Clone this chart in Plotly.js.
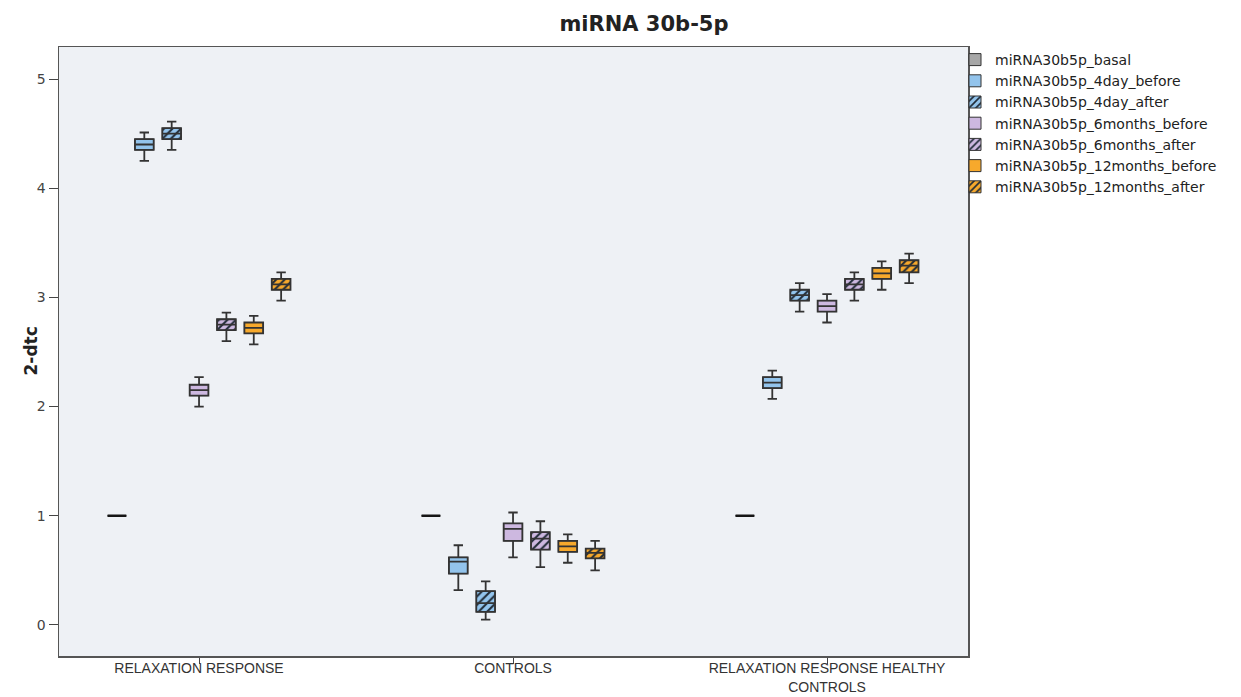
<!DOCTYPE html>
<html>
<head>
<meta charset="utf-8">
<script src="https://cdn.plot.ly/plotly-3.0.1.min.js"></script>
<style>
  html, body { margin: 0; padding: 0; background: #ffffff; }
  #chart { width: 1241px; height: 697px; }
</style>
</head>
<body>
<div id="chart"></div>
<script>
// Groups on the category axis
const groups = ['RELAXATION RESPONSE', 'CONTROLS', 'RELAXATION RESPONSE HEALTHY CONTROLS'];
const groupLabels = ['RELAXATION RESPONSE', 'CONTROLS', 'RELAXATION RESPONSE HEALTHY<br>CONTROLS'];

// One series per time point (rows below follow this order)
const seriesNames = [
  'miRNA30b5p_basal',
  'miRNA30b5p_4day_before',
  'miRNA30b5p_4day_after',
  'miRNA30b5p_6months_before',
  'miRNA30b5p_6months_after',
  'miRNA30b5p_12months_before',
  'miRNA30b5p_12months_after'
];

// Box statistics: one row per series, one column per group
const lowerWhisker = [
  [1.00, 1.00, 1.00],
  [4.25, 0.32, 2.07],
  [4.35, 0.05, 2.87],
  [2.00, 0.62, 2.77],
  [2.60, 0.53, 2.97],
  [2.57, 0.57, 3.07],
  [2.97, 0.50, 3.13]
];
const quartile1 = [
  [1.00, 1.00, 1.00],
  [4.35, 0.47, 2.17],
  [4.45, 0.12, 2.97],
  [2.10, 0.77, 2.87],
  [2.70, 0.69, 3.07],
  [2.67, 0.67, 3.17],
  [3.07, 0.61, 3.23]
];
const medians = [
  [1.00, 1.00, 1.00],
  [4.40, 0.58, 2.22],
  [4.50, 0.20, 3.02],
  [2.15, 0.88, 2.92],
  [2.75, 0.79, 3.12],
  [2.72, 0.72, 3.22],
  [3.12, 0.66, 3.29]
];
const quartile3 = [
  [1.00, 1.00, 1.00],
  [4.45, 0.62, 2.27],
  [4.55, 0.31, 3.07],
  [2.20, 0.93, 2.97],
  [2.80, 0.85, 3.17],
  [2.77, 0.77, 3.27],
  [3.17, 0.70, 3.34]
];
const upperWhisker = [
  [1.00, 1.00, 1.00],
  [4.51, 0.73, 2.33],
  [4.61, 0.40, 3.13],
  [2.27, 1.03, 3.03],
  [2.86, 0.95, 3.23],
  [2.83, 0.83, 3.33],
  [3.23, 0.77, 3.40]
];

// Fill colours and hatching per series
const fillColors = ['#a7a7a7', '#93c4ec', '#93c4ec', '#cdb8e0', '#cdb8e0', '#f7a92c', '#f7a92c'];
const hatched = [false, false, true, false, true, false, true];

// Box geometry shared by the box traces and the fill bars underneath them
const BOXGAP = 0.39;
const BOXGROUPGAP = 0.315;
const nSeries = seriesNames.length;
const groupFraction = 1 - BOXGAP;
const boxWidth = groupFraction * (1 - BOXGROUPGAP) / nSeries;
const slotOffset = k => (-0.5 + (k + 0.5) / nSeries) * groupFraction;

const outline = '#333333';
const traces = [];

// Fill layer (bars from Q1 to Q3), carrying colour, hatching and the legend
seriesNames.forEach((name, k) => {
  const marker = {
    color: fillColors[k],
    line: { color: outline, width: 1 }
  };
  if (hatched[k]) {
    marker.pattern = {
      shape: '/',
      fillmode: 'replace',
      bgcolor: fillColors[k],
      fgcolor: '#1f2a36',
      size: 6,
      solidity: 0.34
    };
  }
  traces.push({
    type: 'bar',
    name: name,
    legendgroup: name,
    alignmentgroup: 'fill',
    x: groups,
    base: quartile1[k],
    y: quartile3[k].map((v, i) => v - quartile1[k][i]),
    width: boxWidth,
    offset: slotOffset(k) - boxWidth / 2,
    marker: marker,
    hoverinfo: 'skip'
  });
});

// Box layer: outlines, medians and whiskers, one offset slot per series
seriesNames.forEach((name, k) => {
  traces.push({
    type: 'box',
    name: name,
    legendgroup: name,
    showlegend: false,
    alignmentgroup: 'boxes',
    offsetgroup: 'slot' + k,
    x: groups,
    q1: quartile1[k],
    median: medians[k],
    q3: quartile3[k],
    lowerfence: lowerWhisker[k],
    upperfence: upperWhisker[k],
    fillcolor: 'rgba(0,0,0,0)',
    line: { color: k === 0 ? '#151515' : outline, width: k === 0 ? 2.6 : 1.8 },
    whiskerwidth: 0.5,
    boxpoints: false
  });
});

const layout = {
  width: 1241,
  height: 697,
  paper_bgcolor: '#ffffff',
  plot_bgcolor: '#eef1f5',
  margin: { l: 59, r: 273, t: 47, b: 41 },
  boxmode: 'group',
  boxgap: BOXGAP,
  boxgroupgap: BOXGROUPGAP,
  barmode: 'overlay',
  title: {
    text: '<b>miRNA 30b-5p</b>',
    x: 644 / 1241,
    xref: 'container',
    xanchor: 'center',
    y: 1 - 24 / 697,
    yref: 'container',
    yanchor: 'middle',
    font: { family: 'DejaVu Sans, sans-serif', size: 21, color: '#222222' }
  },
  xaxis: {
    type: 'category',
    range: [-0.446, 2.449],
    tickmode: 'array',
    tickvals: groups,
    ticktext: groupLabels,
    ticks: 'outside',
    ticklen: 6,
    tickwidth: 1,
    tickcolor: '#444444',
    ticklabelstandoff: -7,
    showline: true,
    mirror: true,
    linecolor: '#555555',
    linewidth: 1.5,
    showgrid: false,
    zeroline: false,
    tickfont: { family: 'Liberation Sans, Arial, sans-serif', size: 14, color: '#333333' }
  },
  yaxis: {
    range: [-0.284, 5.293],
    tickmode: 'array',
    tickvals: [0, 1, 2, 3, 4, 5],
    ticks: 'outside',
    ticklen: 9,
    tickwidth: 1,
    tickcolor: '#444444',
    showline: true,
    mirror: true,
    linecolor: '#555555',
    linewidth: 1.5,
    showgrid: false,
    zeroline: false,
    tickfont: { family: 'DejaVu Sans, sans-serif', size: 14, color: '#444444' }
  },
  annotations: [{
    text: '<b>2-dtc</b>',
    xref: 'paper', yref: 'paper',
    x: (30 - 59) / 909, y: 0.5,
    xanchor: 'center', yanchor: 'middle',
    textangle: -90,
    showarrow: false,
    font: { family: 'DejaVu Sans, sans-serif', size: 17, color: '#222222' }
  }],
  legend: {
    x: (955 - 59) / 909,
    xanchor: 'left',
    y: (656 - 44) / 609,
    yanchor: 'top',
    bgcolor: 'rgba(0,0,0,0)',
    borderwidth: 0,
    traceorder: 'normal',
    font: { family: 'DejaVu Sans, sans-serif', size: 14, color: '#222222' }
  },
  showlegend: true
};

Plotly.newPlot('chart', traces, layout, { displayModeBar: false, staticPlot: true });
</script>
</body>
</html>
